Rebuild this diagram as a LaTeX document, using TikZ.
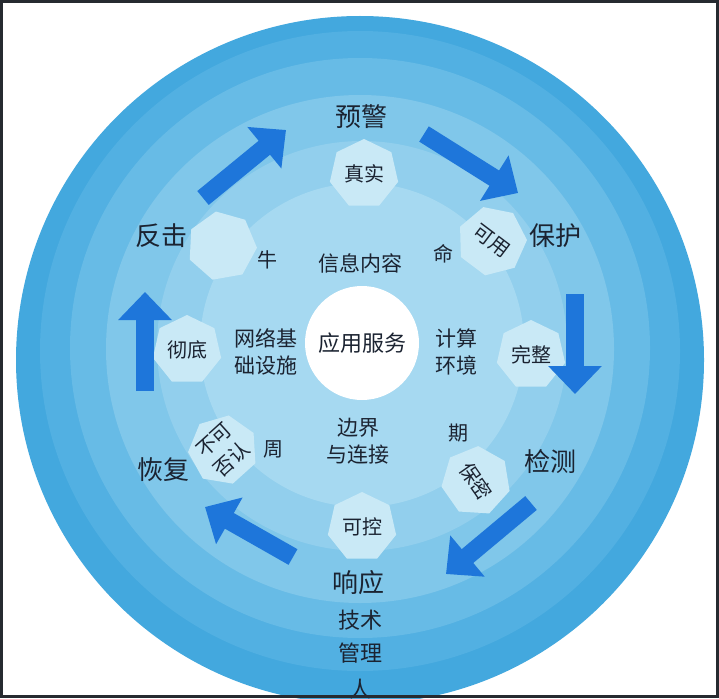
\documentclass[tikz,border=0pt]{standalone}
\usepackage{fontspec}
\setmainfont{Noto Sans CJK SC}
\usetikzlibrary{arrows.meta, shapes.geometric}
\definecolor{ringA}{HTML}{43A8DE}
\definecolor{ringB}{HTML}{52B0E2}
\definecolor{ringC}{HTML}{67BBE6}
\definecolor{ringD}{HTML}{80C7EA}
\definecolor{ringE}{HTML}{92CFED}
\definecolor{ringF}{HTML}{A6D9F1}
\definecolor{hexfill}{HTML}{C9E9F6}
\definecolor{arrowblue}{HTML}{1E76DA}
\definecolor{ink}{HTML}{1B2331}
\definecolor{framegray}{HTML}{262A30}

\begin{document}
\begin{tikzpicture}[
  x=1pt, y=-1pt,
  every node/.style={text=ink, inner sep=1pt},
  phase/.style={font=\fontsize{26}{30}\selectfont},
  layer/.style={font=\fontsize{22}{26}\selectfont},
  inner/.style={font=\fontsize{21}{27}\selectfont, align=center},
  frag/.style={font=\fontsize{20}{24}\selectfont},
  hexcell/.style={regular polygon, regular polygon sides=7, minimum size=70pt,
    inner sep=0pt, fill=hexfill, font=\fontsize{20}{26}\selectfont, align=center},
  bigarrow/.style={draw=arrowblue, line width=18pt, -{Triangle[length=28pt, width=52pt]}},
]

\useasboundingbox (0,0) rectangle (719,698);
\clip (0,0) rectangle (719,698);
\fill[white] (0,0) rectangle (719,698);

% ============ Rings ============
\fill[ringA] (360,360) circle[radius=344pt];
\fill[ringB] (360,351) circle[radius=320pt];
\fill[ringC] (360,348) circle[radius=290pt];
\fill[ringD] (360,349) circle[radius=254pt];
\fill[ringE] (362,346) circle[radius=205pt];
\fill[ringF] (362,345) circle[radius=162pt];

% ============ Hexagons ============
\node[hexcell] (zhenshi) at (364,174) {真实};
\node[hexcell, rotate=-37] (keyong) at (492,241) {可用};
\node[hexcell] (wanzheng) at (531,355) {完整};
\node[hexcell, rotate=-55] (baomi) at (476,481) {保密};
\node[hexcell] (kekong) at (362,527) {可控};
\node[hexcell, rotate=42] (fouren) at (223,450) {不可\\否认};
\node[hexcell] (chedi) at (187,350) {彻底};
\node[hexcell, shape border rotate=10] (blank) at (222,246) {};

% Life cycle fragments
\node[frag] (sheng) at (267,260) {牛};
\node[frag] (ming) at (443,254) {命};
\node[frag] (zhou) at (273,449) {周};
\node[frag] (qi) at (458,433) {期};

% ============ Inner layers ============
\node[inner] (xinxi) at (360,263) {信息内容};
\node[inner] (wangluo) at (266,352) {网络基\\础设施};
\node[inner] (jisuan) at (456,352) {计算\\环境};
\node[inner] (bianjie) at (358,441) {边界\\与连接};
\node[circle, fill=white, minimum size=114pt, inner sep=0pt, font=\fontsize{22}{26}\selectfont]
  (core) at (362,343) {应用服务};

% ============ Phases ============
\node[phase] (yujing) at (361,117) {预警};
\node[phase] (baohu) at (555,236) {保护};
\node[phase] (jiance) at (550,462) {检测};
\node[phase] (xiangying) at (358,583) {响应};
\node[phase] (huifu) at (163,470) {恢复};
\node[phase] (fanji) at (161,236) {反击};

% Bottom layers
\foreach \name/\lab/\yy in {jishu/技术/620, guanli/管理/653, ren/人/689} {
  \node[layer] (\name) at (360,\yy) {\lab};
}

% ============ Arrows ============
\coordinate (a1s) at (203,198);  \coordinate (a1e) at (286,130);
\coordinate (a2s) at (424,134);  \coordinate (a2e) at (518,193);
\coordinate (a3s) at (575,294);  \coordinate (a3e) at (575,394);
\coordinate (a4s) at (531,503);  \coordinate (a4e) at (446,574);
\coordinate (a5s) at (293,557);  \coordinate (a5e) at (205,507);
\coordinate (a6s) at (145,391);  \coordinate (a6e) at (145,292);
\foreach \k in {1,...,6} {
  \draw[bigarrow] (a\k s) -- (a\k e);
}

% Frame
\draw[framegray, line width=3pt] (1.5,1.5) rectangle (717,696.5);

\end{tikzpicture}
\end{document}
